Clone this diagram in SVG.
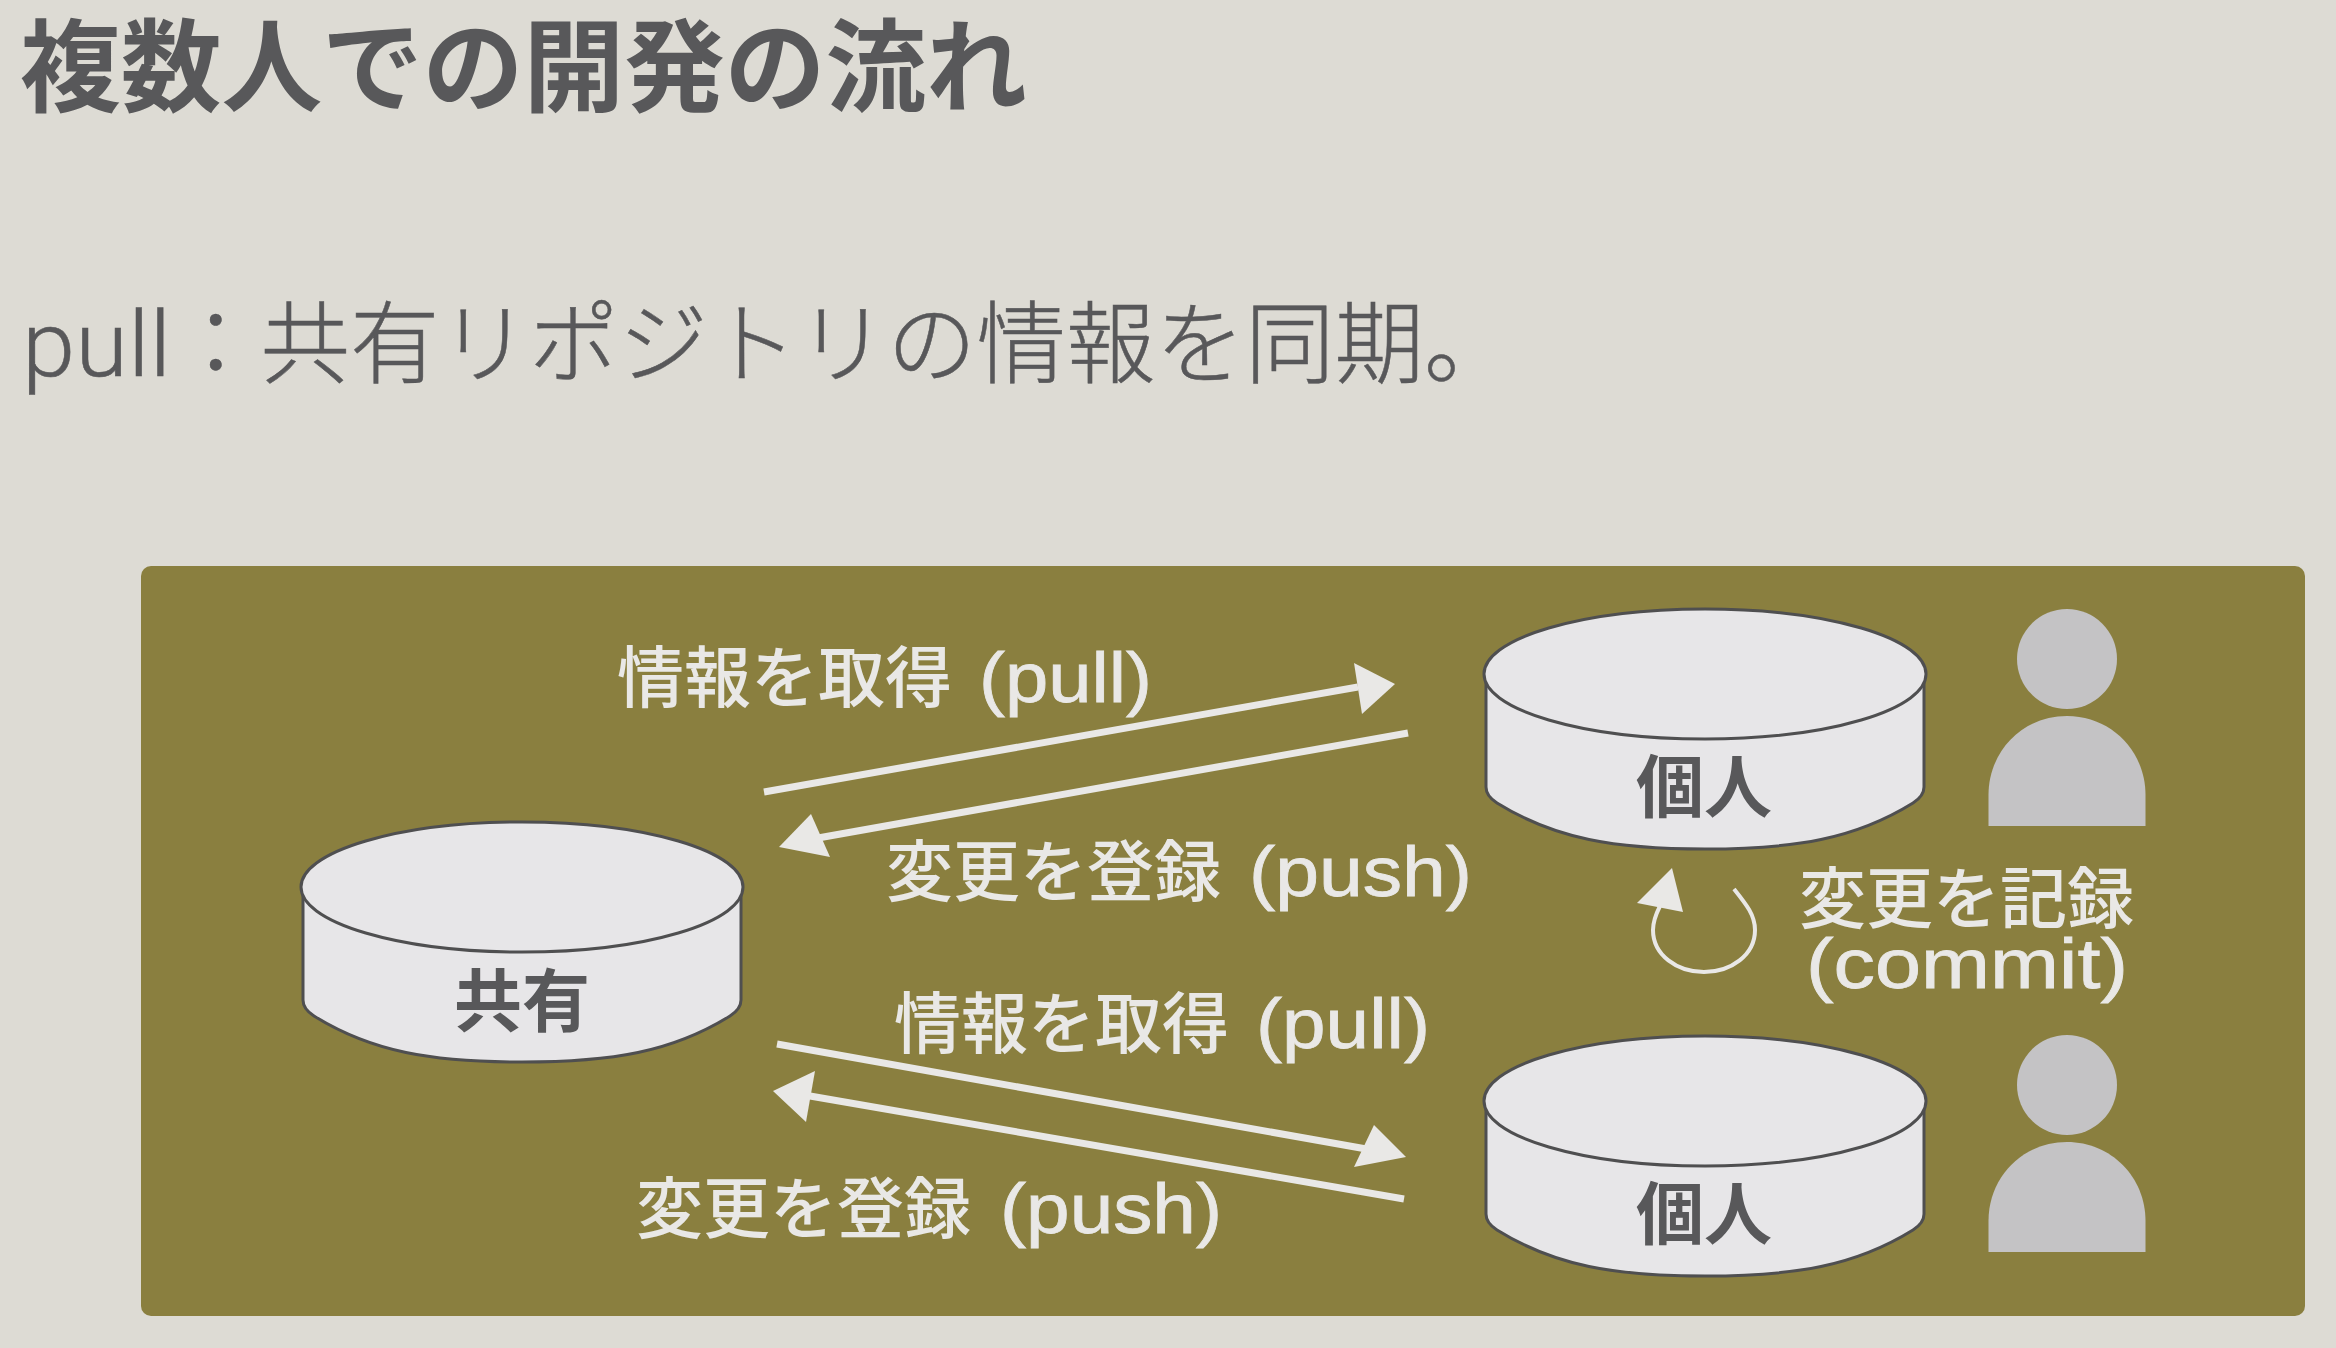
<svg xmlns="http://www.w3.org/2000/svg" width="2336" height="1348" viewBox="0 0 2336 1348">
<style>
text{font-family:"Liberation Sans","Noto Sans CJK JP",sans-serif}
.title{font-size:100.7px;font-weight:700;fill:#58585a}
.sub{font-size:89.5px;font-weight:300;fill:#58585a;stroke:#58585a;stroke-width:.5}
.sub .lat{font-family:Roboto,sans-serif;font-size:90px}
.lbl{font-size:67px;font-weight:500;fill:#e9e8e6}
.lbl .lat{font-size:71px;stroke:#e9e8e6;stroke-width:.8}
.cyl{font-size:68px;font-weight:700;fill:#58585a;text-anchor:middle}
.body{fill:#e7e6e8;stroke:#4f4f50;stroke-width:3}
.person{fill:#c4c3c5}
.line{stroke:#e9e8e6;stroke-width:7;fill:none}
.head{fill:#e9e8e6}
</style>
<defs>
<g id="cyl-shape">
<path class="body" d="M-219 0V113Q-219 122-208 129C-150 165-90 175 0 175C90 175 150 165 208 129Q219 122 219 113V0Z"/>
<ellipse class="body" cx="0" cy="0" rx="221" ry="65"/>
</g>
<g id="person-shape">
<ellipse class="person" cx="0" cy="0" rx="50" ry="50"/>
<path class="person" d="M-78.500 167V136C-78.500 92-44 57 0 57C44 57 78.500 92 78.500 136V167Z"/>
</g>
</defs>
<rect width="2336" height="1348" fill="#dddbd4"/>
<text class="title" x="20" y="104">複数人での開発の流れ</text>
<text class="sub" x="22" y="376"><tspan class="lat" textLength="149" lengthAdjust="spacingAndGlyphs">pull</tspan>：共有リポジトリの情報を同期。</text>
<rect id="panel" x="141" y="566" width="2164" height="750" rx="10" fill="#8a7f3f"/>
<g id="node-shared"><use href="#cyl-shape" x="522" y="887"/><text class="cyl" x="522" y="1026">共有</text></g>
<g id="node-personal-1"><use href="#cyl-shape" x="1705" y="674"/><text class="cyl" x="1704" y="812">個人</text></g>
<g id="node-personal-2"><use href="#cyl-shape" x="1705" y="1101"/><text class="cyl" x="1704" y="1239">個人</text></g>
<g id="person-1"><use href="#person-shape" x="2067" y="659"/></g>
<g id="person-2"><use href="#person-shape" x="2067" y="1085"/></g>
<g id="connectors">
<path class="line" d="M764 792L1358 687"/><polygon class="head" points="1395,684 1354,663 1362,714"/>
<path class="line" d="M1408 733L818 838"/><polygon class="head" points="779,847 811,814 830,857"/>
<path class="line" d="M777 1044L1372 1150"/><polygon class="head" points="1406,1157 1374,1125 1354,1167"/>
<path class="line" d="M1404 1199L810 1096"/><polygon class="head" points="773,1091 815,1071 806,1122"/>
<path d="M1734 889C1746 904 1755 915 1755 930C1755 955 1731 972 1704 972C1677 972 1653 955 1653 930C1653 922 1656 914 1660 906" fill="none" stroke="#e9e8e6" stroke-width="4"/>
<polygon class="head" points="1672,868 1637,903 1683,912"/>
</g>
<g id="labels">
<text class="lbl" x="617" y="702">情報を取得 <tspan class="lat" x="979" textLength="173" lengthAdjust="spacingAndGlyphs">(pull)</tspan></text>
<text class="lbl" x="886" y="896">変更を登録 <tspan class="lat" x="1249" textLength="223" lengthAdjust="spacingAndGlyphs">(push)</tspan></text>
<text class="lbl" x="894" y="1048">情報を取得 <tspan class="lat" x="1256" textLength="174" lengthAdjust="spacingAndGlyphs">(pull)</tspan></text>
<text class="lbl" x="636" y="1233">変更を登録 <tspan class="lat" x="1000" textLength="222" lengthAdjust="spacingAndGlyphs">(push)</tspan></text>
<text class="lbl" x="1799" y="923">変更を記録</text>
<text class="lbl" x="1806" y="988"><tspan class="lat" textLength="322" lengthAdjust="spacingAndGlyphs">(commit)</tspan></text>
</g>
</svg>
